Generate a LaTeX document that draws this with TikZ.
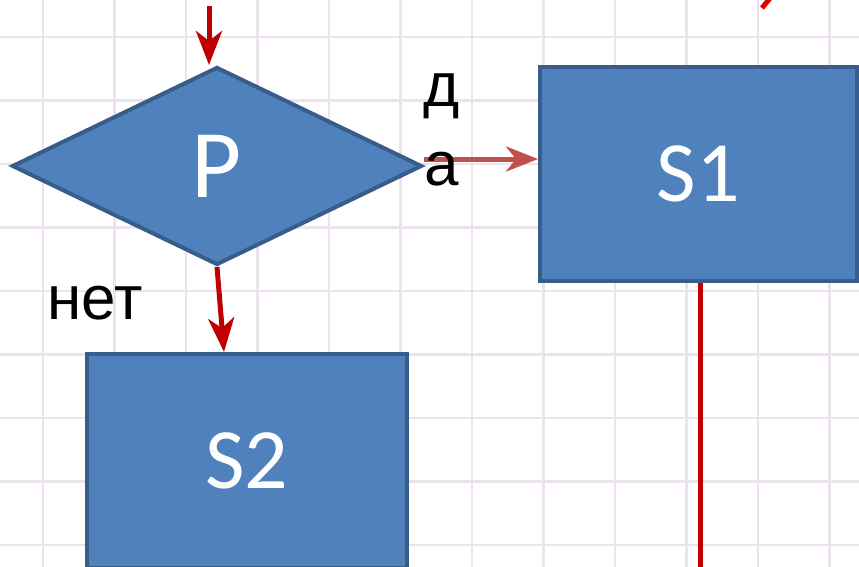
\documentclass[tikz,border=0pt]{standalone}
\usepackage{fontspec}
\newfontfamily\calib{Carlito}
\newfontfamily\arialf{Liberation Sans}
\usetikzlibrary{shapes.geometric,arrows.meta,calc}
\definecolor{boxfill}{HTML}{4F81BD}
\definecolor{boxline}{HTML}{385D8A}
\definecolor{flowred}{HTML}{C00000}
\definecolor{yesred}{HTML}{C0504D}
\definecolor{markred}{HTML}{E00000}
\definecolor{gridc}{RGB}{236,227,238}
\tikzset{
  blockbox/.style={draw=boxline, fill=boxfill, line width=4pt, rectangle, inner sep=0pt,
    minimum width=#1, minimum height=214pt, text=white, font=\calib\fontsize{86}{86}\selectfont},
  decbox/.style={draw=boxline, fill=boxfill, line width=4pt, diamond, inner sep=0pt,
    minimum width=410pt, minimum height=198pt, text=white, font=\calib\fontsize{97}{97}\selectfont},
  flow/.style={draw=flowred, line width=5pt, -{Stealth[length=34pt,width=26pt,inset=10pt]}},
  yesflow/.style={draw=yesred, line width=5pt, -{Stealth[length=32pt,width=25pt,inset=10pt]}},
  plainflow/.style={draw=flowred, line width=5pt},
  lbl/.style={text=black, inner sep=0pt, font=\arialf\fontsize{62}{78}\selectfont},
  gridline/.style={draw=gridc, line width=2.8pt}
}
\begin{document}
\begin{tikzpicture}[x=1pt,y=-1pt]
\useasboundingbox (0,0) rectangle (859,567);
\fill[white] (0,0) rectangle (859,567);
% grid paper
\foreach \i in {0,...,11} {\draw[gridline] ({43+71.5*\i},0) -- ({43+71.5*\i},567);}
\foreach \j in {0,...,8} {\draw[gridline] (0,{37+63.5*\j}) -- (859,{37+63.5*\j});}

% blocks
\node[decbox] (P) at (217,166) {\raisebox{-5pt}{P}};
\node[blockbox=317pt] (S1) at (698.5,174) {\raisebox{-3pt}{S1}};
\node[blockbox=320pt] (S2) at (247,461) {\raisebox{-5pt}{S2}};

% connectors
\coordinate (topin) at (209,6);
\draw[flow] (topin) -- (topin |- P.north);
\draw[flow] (P.south) -- ([xshift=-23pt]S2.north);
\draw[yesflow] ([yshift=7pt]P.east) -- ([yshift=7pt]P.east -| S1.west);
\coordinate (s1end) at (700,572);
\draw[plainflow] (S1.south -| s1end) -- (s1end);
\coordinate (markA) at (762,8);
\coordinate (markB) at (771,-3);
\draw[draw=markred, line width=5pt] (markA) -- (markB);

% labels
\node[lbl, align=center, anchor=base] (yes) at (441.5,185) {д\\а};
\node[lbl, anchor=base] (no) at (95,319) {нет};
\end{tikzpicture}
\end{document}
